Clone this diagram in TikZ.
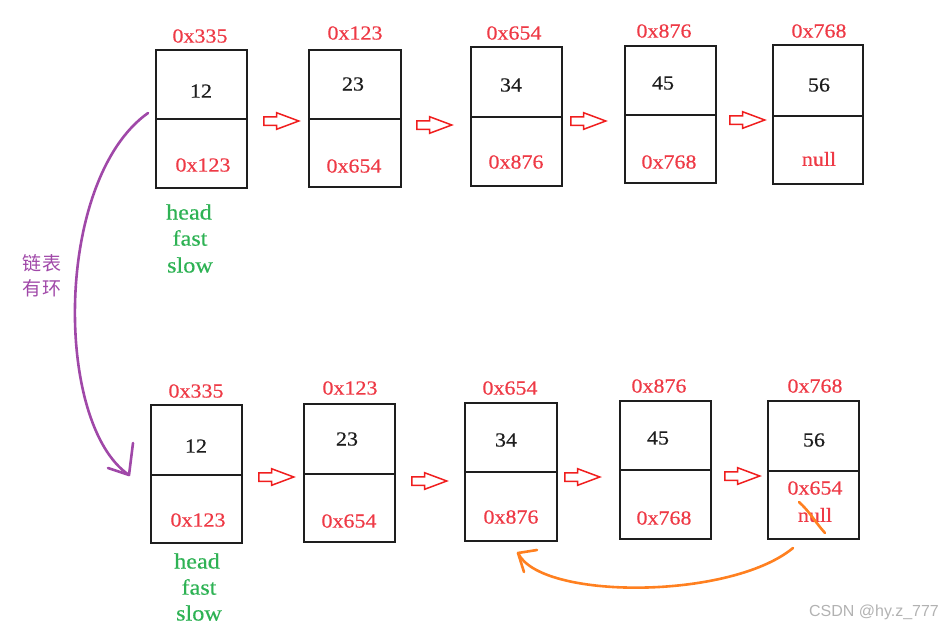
\documentclass[tikz,border=0pt]{standalone}
\usepackage{fontspec}
\setmainfont[FakeStretch=1.1, FakeBold=0.5]{Liberation Serif}
\newfontfamily\cjk{Noto Sans CJK SC}
\newfontfamily\wmfont{Liberation Sans}
\usetikzlibrary{shapes.arrows}
\definecolor{lblred}{RGB}{238,58,70}
\definecolor{arrred}{RGB}{240,30,30}
\definecolor{grn}{RGB}{46,178,84}
\definecolor{purp}{RGB}{160,72,168}
\definecolor{orng}{RGB}{255,128,32}
\definecolor{wm}{RGB}{178,178,178}
\definecolor{ink}{RGB}{30,30,30}
\tikzset{
  cellbox/.style={draw=ink, line width=2.2pt, inner sep=0pt, outer sep=0pt},
  cellline/.style={draw=ink, line width=2.2pt},
  addr/.style={text=lblred, font=\fontsize{20}{20}\selectfont, inner sep=0pt},
  val/.style={text=ink, font=\fontsize{20}{20}\selectfont, inner sep=0pt},
  ptr/.style={text=grn, font=\fontsize{22}{22}\selectfont, inner sep=0pt},
  blockarrow/.style={single arrow, draw=arrred, line width=1.5pt, fill=white,
    minimum height=35pt, inner sep=3.5pt, single arrow head extend=4pt,
    single arrow tip angle=41, anchor=tail},
  pen/.style={line width=2.6pt, line cap=round, line join=round},
}
\newcommand\llbox[6]{%
  \node[cellbox, minimum width={#3-#2}, minimum height={#5-#4}] (#1) at ({(#2+#3)/2},{(#4+#5)/2}) {};
  \draw[cellline] ({#2},{#6}) -- ({#3},{#6});
}
\begin{document}
\begin{tikzpicture}[x=1pt,y=-1pt]
\useasboundingbox (0,0) rectangle (947,629);
% ---------- top row ----------
\llbox{ta}{156}{247}{50}{188}{119}
\llbox{tb}{309}{401}{50}{187}{119}
\llbox{tc}{471}{562}{47}{186}{117}
\llbox{td}{625}{716}{46}{183}{115}
\llbox{te}{773}{863}{45}{184}{116}
\node[addr] (taa) at (200,36) {0x335};
\node[addr] (tba) at (355,33) {0x123};
\node[addr] (tca) at (514,33) {0x654};
\node[addr] (tda) at (664,31) {0x876};
\node[addr] (tea) at (819,31) {0x768};
\node[val] (tav) at (201,91) {12};
\node[val] (tbv) at (353,84) {23};
\node[val] (tcv) at (511,85) {34};
\node[val] (tdv) at (663,83) {45};
\node[val] (tev) at (819,85) {56};
\node[addr] (tan) at (203,165) {0x123};
\node[addr] (tbn) at (354,166) {0x654};
\node[addr] (tcn) at (516,162) {0x876};
\node[addr] (tdn) at (669,162) {0x768};
\node[addr] (ten) at (819,159) {null};
\node[blockarrow] (tab) at (263,121) {};
\node[blockarrow] (tbc) at (416,125) {};
\node[blockarrow] (tcd) at (570,121) {};
\node[blockarrow] (tde) at (729,120) {};
\node[ptr] (th1) at (189,212) {head};
\node[ptr] (th2) at (190,238) {fast};
\node[ptr] (th3) at (190,265) {slow};
% ---------- bottom row ----------
\llbox{ba}{151}{242}{405}{543}{475}
\llbox{bb}{304}{395}{404}{542}{474}
\llbox{bc}{465}{557}{403}{541}{472}
\llbox{bd}{620}{711}{401}{539}{470}
\llbox{be}{768}{859}{401}{539}{471}
\node[addr] (baa) at (196,391) {0x335};
\node[addr] (bba) at (350,388) {0x123};
\node[addr] (bca) at (510,388) {0x654};
\node[addr] (bda) at (659,386) {0x876};
\node[addr] (bea) at (815,386) {0x768};
\node[val] (bav) at (196,446) {12};
\node[val] (bbv) at (347,439) {23};
\node[val] (bcv) at (506,440) {34};
\node[val] (bdv) at (658,438) {45};
\node[val] (bev) at (814,440) {56};
\node[addr] (ban) at (198,520) {0x123};
\node[addr] (bbn) at (349,521) {0x654};
\node[addr] (bcn) at (511,517) {0x876};
\node[addr] (bdn) at (664,518) {0x768};
\node[addr] (ben1) at (815,488) {0x654};
\node[addr] (ben2) at (815,515) {null};
\node[blockarrow] (bab) at (258,477) {};
\node[blockarrow] (bbc) at (411,481) {};
\node[blockarrow] (bcd) at (564,477) {};
\node[blockarrow] (bde) at (724,476) {};
\node[ptr] (bh1) at (197,561) {head};
\node[ptr] (bh2) at (199,587) {fast};
\node[ptr] (bh3) at (199,613) {slow};
% ---------- purple hand-drawn arrow ----------
\coordinate (ps) at (148,113);
\coordinate (pe) at (129,475);
\coordinate (ph1) at (133,443);
\coordinate (ph2) at (108,468);
\draw[pen, purp] (ps) .. controls (54,180) and (54,424) .. (pe);
\draw[pen, purp] (ph1) -- (pe) -- (ph2);
\node[text=purp, font=\cjk\fontsize{19}{19}\selectfont, inner sep=0pt, align=center] (cap) at (42,276) {链表\\[6pt]有环};
% ---------- orange hand-drawn arrow ----------
\coordinate (os) at (793,548);
\coordinate (oe) at (518,553);
\coordinate (oh1) at (537,550);
\coordinate (oh2) at (524,572);
\draw[pen, orng] (os) .. controls (730,600) and (540,600) .. (oe);
\draw[pen, orng] (oh1) -- (oe) -- (oh2);
\coordinate (ss) at (799,502);
\coordinate (se) at (825,533);
\draw[pen, orng] (ss) .. controls (810,512) and (815,522) .. (se);
% ---------- watermark ----------
\node[text=wm, font=\wmfont\fontsize{16}{16}\selectfont, inner sep=0pt] (wmk) at (874,612) {CSDN @hy.z\_777};
\end{tikzpicture}
\end{document}
